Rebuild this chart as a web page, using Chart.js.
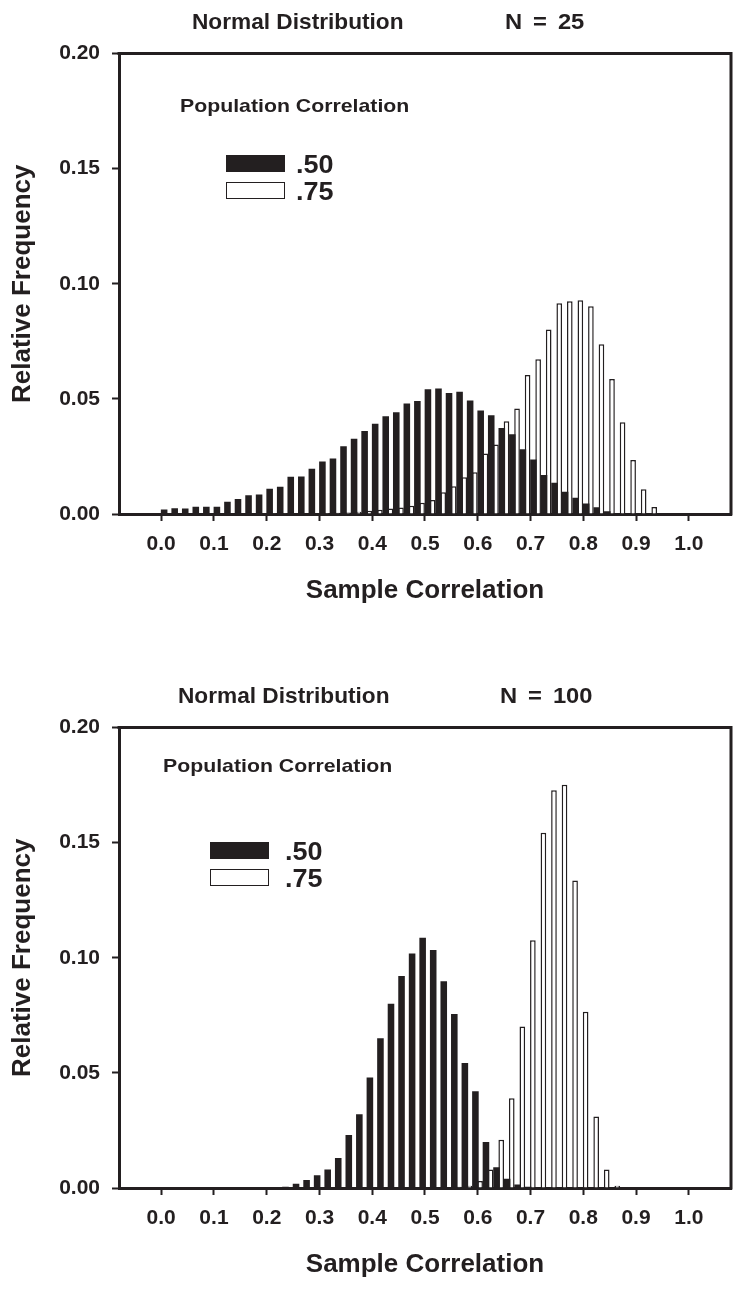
<!DOCTYPE html>
<html>
<head>
<meta charset="utf-8">
<script src="https://cdn.jsdelivr.net/npm/chart.js@4.4.1/dist/chart.umd.min.js"></script>
<style>
  body { margin: 0; background: #fff; }
  #page { position: relative; width: 734px; height: 1290px; overflow: hidden;
          font-family: "Liberation Sans", Arial, sans-serif; font-weight: bold; color: #231f20; }
  .panel { position: absolute; left: 0; width: 734px; height: 615px; }
  .panel canvas { position: absolute; left: 0; top: 0; }
  .txt { position: absolute; white-space: nowrap; line-height: 1; transform-origin: 0 0; }
  .swatch { position: absolute; box-sizing: border-box; }
</style>
</head>
<body>
<div id="page"></div>
<script>
// ---- data ----
const X_TICKS = [0.0, 0.1, 0.2, 0.3, 0.4, 0.5, 0.6, 0.7, 0.8, 0.9, 1.0];
const Y_TICKS = [0.00, 0.05, 0.10, 0.15, 0.20];
const SERIES_LABELS = ['.50', '.75'];

// N = 25, bins centred on odd hundredths
const BINS_N25 = [0.01, 0.03, 0.05, 0.07, 0.09, 0.11, 0.13, 0.15, 0.17, 0.19,
                  0.21, 0.23, 0.25, 0.27, 0.29, 0.31, 0.33, 0.35, 0.37, 0.39,
                  0.41, 0.43, 0.45, 0.47, 0.49, 0.51, 0.53, 0.55, 0.57, 0.59,
                  0.61, 0.63, 0.65, 0.67, 0.69, 0.71, 0.73, 0.75, 0.77, 0.79,
                  0.81, 0.83, 0.85, 0.87, 0.89, 0.91, 0.93, 0.95, 0.97, 0.99];
const R50_N25 = [0.0020, 0.0025, 0.0024, 0.0032, 0.0032, 0.0032, 0.0053, 0.0065, 0.0081, 0.0085,
                 0.0110, 0.0118, 0.0162, 0.0163, 0.0197, 0.0228, 0.0241, 0.0294, 0.0327, 0.0360,
                 0.0392, 0.0424, 0.0442, 0.0480, 0.0491, 0.0542, 0.0545, 0.0525, 0.0531, 0.0493,
                 0.0450, 0.0429, 0.0374, 0.0346, 0.0281, 0.0237, 0.0169, 0.0136, 0.0097, 0.0071,
                 0.0046, 0.0029, 0.0012, 0.0004, 0.0001, 0, 0, 0, 0, 0];
const R75_N25 = [0, 0, 0, 0, 0, 0, 0, 0, 0, 0,
                 0.0001, 0.0001, 0.0002, 0.0002, 0.0003, 0.0004, 0.0005, 0.0007, 0.0010, 0.0014,
                 0.0018, 0.0024, 0.0028, 0.0036, 0.0049, 0.0061, 0.0094, 0.0121, 0.0160, 0.0181,
                 0.0263, 0.0302, 0.0403, 0.0458, 0.0604, 0.0672, 0.0801, 0.0915, 0.0924, 0.0928,
                 0.0902, 0.0737, 0.0586, 0.0398, 0.0234, 0.0107, 0.0030, 0.0003, 0, 0];

// N = 100, bins centred on even hundredths
const BINS_N100 = [0.00, 0.02, 0.04, 0.06, 0.08, 0.10, 0.12, 0.14, 0.16, 0.18,
                   0.20, 0.22, 0.24, 0.26, 0.28, 0.30, 0.32, 0.34, 0.36, 0.38,
                   0.40, 0.42, 0.44, 0.46, 0.48, 0.50, 0.52, 0.54, 0.56, 0.58,
                   0.60, 0.62, 0.64, 0.66, 0.68, 0.70, 0.72, 0.74, 0.76, 0.78,
                   0.80, 0.82, 0.84, 0.86, 0.88, 0.90, 0.92, 0.94, 0.96, 0.98];
const R50_N100 = [0, 0, 0, 0, 0, 0, 0, 0, 0, 0,
                  0, 0, 0.0005, 0.0018, 0.0035, 0.0055, 0.0080, 0.0130, 0.0230, 0.0320,
                  0.0480, 0.0650, 0.0800, 0.0921, 0.1018, 0.1087, 0.1034, 0.0898, 0.0756, 0.0543,
                  0.0420, 0.0200, 0.0090, 0.0040, 0.0015, 0.0005, 0, 0, 0, 0,
                  0, 0, 0, 0, 0, 0, 0, 0, 0, 0];
const R75_N100 = [0, 0, 0, 0, 0, 0, 0, 0, 0, 0,
                  0, 0, 0, 0, 0, 0, 0, 0, 0, 0,
                  0, 0, 0, 0, 0, 0, 0, 0, 0.0005, 0.0010,
                  0.0030, 0.0080, 0.0210, 0.0390, 0.0701, 0.1076, 0.1543, 0.1727, 0.1751, 0.1336,
                  0.0765, 0.0310, 0.0080, 0.0010, 0, 0, 0, 0, 0, 0];

const CHART_TITLE = 'Normal Distribution';
const LEGEND_TITLE = 'Population Correlation';
const X_TITLE = 'Sample Correlation';
const Y_TITLE = 'Relative Frequency';

// ---- layout ----
const INK = '#231f20';
const FONT = '"Liberation Sans", Arial, sans-serif';

const PANELS = [
  { top: 0, n: 'N = 25', bins: BINS_N25, r50: R50_N25, r75: R75_N25,
    titleLeft: 192, nLeft: 505,
    legend: { titleLeft: 180, titleTop: 96, boxLeft: 226, boxTop: 155, labelLeft: 296 } },
  { top: 674, n: 'N = 100', bins: BINS_N100, r50: R50_N100, r75: R75_N100,
    titleLeft: 178, nLeft: 500,
    legend: { titleLeft: 163, titleTop: 82, boxLeft: 210, boxTop: 168, labelLeft: 285 } },
];

function addText(parent, text, left, top, size, stretch, wordSpacing) {
  const el = document.createElement('div');
  el.className = 'txt';
  el.textContent = text;
  el.style.left = left + 'px';
  el.style.top = top + 'px';
  el.style.fontSize = size + 'px';
  el.style.transform = 'scaleX(' + (stretch || 1) + ')';
  if (wordSpacing) el.style.wordSpacing = wordSpacing + 'px';
  parent.appendChild(el);
}

function addSwatch(parent, left, top, filled) {
  const el = document.createElement('div');
  el.className = 'swatch';
  el.style.left = left + 'px';
  el.style.top = top + 'px';
  el.style.width = '59px';
  el.style.height = '17px';
  el.style.background = filled ? INK : '#fff';
  el.style.border = '1.5px solid ' + INK;
  parent.appendChild(el);
}

// top and right edges of the frame
const framePlugin = {
  id: 'frame',
  afterDraw(chart) {
    const { ctx, chartArea: a } = chart;
    ctx.save();
    ctx.strokeStyle = INK;
    ctx.lineWidth = 3;
    ctx.lineCap = 'square';
    ctx.beginPath();
    ctx.moveTo(a.left, a.top);
    ctx.lineTo(a.right, a.top);
    ctx.lineTo(a.right, a.bottom);
    ctx.stroke();
    ctx.restore();
  },
};

function axisGrid() {
  return {
    display: true,
    drawOnChartArea: false,
    drawTicks: true,
    tickLength: 7,
    tickWidth: 2,
    tickColor: INK,
    color: INK,
    offset: false,
  };
}

function makeChart(canvas, p) {
  const points = (vals) => p.bins.map((b, i) => ({ x: b, y: vals[i] }));
  return new Chart(canvas, {
    type: 'bar',
    data: {
      datasets: [
        {
          label: SERIES_LABELS[0],
          data: points(p.r50),
          backgroundColor: INK,
          borderWidth: 0,
          categoryPercentage: 0.89,
          barPercentage: 1.4,
        },
        {
          label: SERIES_LABELS[1],
          data: points(p.r75),
          backgroundColor: '#fff',
          borderColor: INK,
          borderWidth: 1.5,
          categoryPercentage: 0.89,
          barPercentage: 1.2,
        },
      ],
    },
    options: {
      responsive: false,
      animation: false,
      layout: { padding: { top: 53.5, right: 3, left: 0, bottom: 0 } },
      plugins: {
        legend: { display: false },
        tooltip: { enabled: false },
      },
      scales: {
        x: {
          type: 'linear',
          min: -0.08,
          max: 1.08,
          offset: false,
          z: 1,
          afterBuildTicks: (scale) => { scale.ticks = X_TICKS.map(v => ({ value: v })); },
          afterFit: (scale) => { scale.height = 101; },
          grid: axisGrid(),
          border: { display: true, width: 3, color: INK },
          ticks: {
            color: INK,
            padding: 11,
            maxRotation: 0,
            autoSkip: false,
            font: { family: FONT, size: 21, weight: 'bold' },
            callback: (v) => Number(v).toFixed(1),
          },
          title: {
            display: true,
            text: X_TITLE,
            color: INK,
            padding: { top: 0, bottom: 9 },
            font: { family: FONT, size: 26, weight: 'bold' },
          },
        },
        y: {
          min: 0,
          max: 0.2,
          z: 1,
          afterBuildTicks: (scale) => { scale.ticks = Y_TICKS.map(v => ({ value: v })); },
          afterFit: (scale) => { scale.width = 119; },
          grid: axisGrid(),
          border: { display: true, width: 3, color: INK },
          ticks: {
            color: INK,
            padding: 12,
            font: { family: FONT, size: 21, weight: 'bold' },
            callback: (v) => Number(v).toFixed(2),
          },
          title: {
            display: true,
            text: Y_TITLE,
            color: INK,
            padding: { top: 7, bottom: 0 },
            font: { family: FONT, size: 26, weight: 'bold' },
          },
        },
      },
    },
    plugins: [framePlugin],
  });
}

const page = document.getElementById('page');
PANELS.forEach((p) => {
  const panel = document.createElement('div');
  panel.className = 'panel';
  panel.style.top = p.top + 'px';
  page.appendChild(panel);

  const canvas = document.createElement('canvas');
  canvas.width = 734;
  canvas.height = 615;
  panel.appendChild(canvas);

  addText(panel, CHART_TITLE, p.titleLeft, 11, 22, 1.03);
  addText(panel, p.n, p.nLeft, 11, 22, 1.08, 4);

  const lg = p.legend;
  addText(panel, LEGEND_TITLE, lg.titleLeft, lg.titleTop, 19, 1.12);
  addSwatch(panel, lg.boxLeft, lg.boxTop, true);
  addSwatch(panel, lg.boxLeft, lg.boxTop + 27, false);
  addText(panel, SERIES_LABELS[0], lg.labelLeft, lg.boxTop - 3, 25, 1.08);
  addText(panel, SERIES_LABELS[1], lg.labelLeft, lg.boxTop + 24, 25, 1.08);

  makeChart(canvas, p);
});
</script>
</body>
</html>
